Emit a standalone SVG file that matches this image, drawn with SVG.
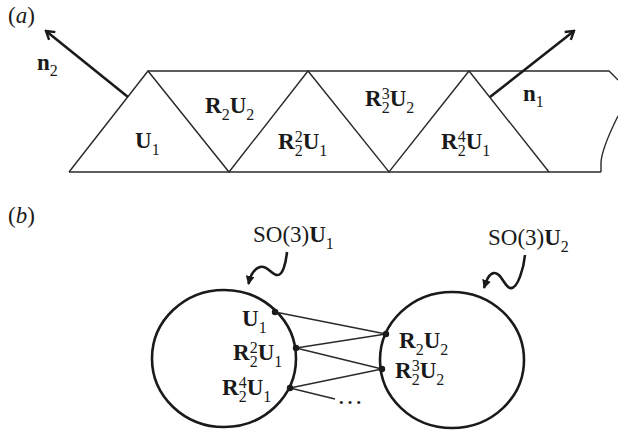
<svg xmlns="http://www.w3.org/2000/svg" width="618" height="431" viewBox="0 0 618 431">
<defs>
<style>
.t{font-family:"Liberation Serif","Times New Roman",serif;font-size:23px;fill:#1a1a1a}
.b{font-weight:bold}
.i{font-style:italic}
.s{font-size:16px;font-weight:normal}
.edge{fill:none;stroke:#2a2a2a;stroke-width:1.4}
.thick{fill:none;stroke:#1a1a1a;stroke-width:2.6}
.circ{fill:none;stroke:#1a1a1a;stroke-width:2.6}
.dot{fill:#1a1a1a}
</style>
<marker id="open" viewBox="0 0 12 12" refX="10" refY="6" markerWidth="12" markerHeight="12" markerUnits="userSpaceOnUse" orient="auto">
<path d="M2,1 L10,6 L2,11" fill="none" stroke="#1a1a1a" stroke-width="2.4" stroke-linejoin="miter"/>
</marker>
<marker id="fill" viewBox="0 0 10 10" refX="9" refY="5" markerWidth="9" markerHeight="9" markerUnits="userSpaceOnUse" orient="auto">
<path d="M0,0 L10,5 L0,10 Z" fill="#1a1a1a"/>
</marker>
</defs>

<!-- (a) -->
<text class="t" x="8" y="23">(<tspan class="i">a</tspan>)</text>

<g id="strip">
<path class="edge" d="M148,71 L609,71 L618,80"/>
<path class="edge" d="M69,172 L601,172"/>
<path class="edge" d="M69,172 L148,71 L229,172 L308,71 L389,172 L469,71 L549,172"/>
<path class="edge" d="M618,116 C612,128 602,150 601,162 L601,172"/>
</g>

<g id="arrows-a">
<path class="thick" d="M128,97 L46,31" marker-end="url(#open)"/>
<path class="thick" d="M490,97 L574,31" marker-end="url(#open)"/>
</g>

<g id="labels-a">
<text class="t" x="37" y="70"><tspan class="b">n</tspan><tspan class="s" dy="6">2</tspan></text>
<text class="t" x="523" y="101"><tspan class="b">n</tspan><tspan class="s" dy="6">1</tspan></text>
<text class="t" x="135" y="148"><tspan class="b">U</tspan><tspan class="s" dy="7">1</tspan></text>
<text class="t" x="205" y="113"><tspan class="b">R</tspan><tspan class="s" dy="7">2</tspan><tspan class="b" dy="-7">U</tspan><tspan class="s" dy="7">2</tspan></text>
<text class="t" x="278" y="149"><tspan class="b">R</tspan><tspan class="s" dy="7">2</tspan><tspan class="s" dx="-8" dy="-14">2</tspan><tspan class="b" dy="7">U</tspan><tspan class="s" dy="7">1</tspan></text>
<text class="t" x="365" y="106"><tspan class="b">R</tspan><tspan class="s" dy="7">2</tspan><tspan class="s" dx="-8" dy="-14">3</tspan><tspan class="b" dy="7">U</tspan><tspan class="s" dy="7">2</tspan></text>
<text class="t" x="441" y="149"><tspan class="b">R</tspan><tspan class="s" dy="7">2</tspan><tspan class="s" dx="-8" dy="-14">4</tspan><tspan class="b" dy="7">U</tspan><tspan class="s" dy="7">1</tspan></text>
</g>

<!-- (b) -->
<text class="t" x="8" y="223">(<tspan class="i">b</tspan>)</text>

<g id="set-U1">
<ellipse class="circ" cx="224" cy="358.5" rx="72" ry="68.5"/>
<text class="t" x="253" y="242">SO(3)<tspan class="b">U</tspan><tspan class="s" dy="7">1</tspan></text>
<path class="thick" d="M287,252 C286,262 283,276 277,275 C271,274 267,265 260,267 C253,269 250,277 248.5,284" marker-end="url(#fill)"/>
</g>

<g id="set-U2">
<ellipse class="circ" cx="452" cy="360" rx="72" ry="68"/>
<text class="t" x="488" y="245">SO(3)<tspan class="b">U</tspan><tspan class="s" dy="7">2</tspan></text>
<path class="thick" d="M525,255 C524,266 518,290 510,288 C504,286 501,272 494,273 C488,274 486,282 484,288" marker-end="url(#fill)"/>
</g>

<g id="connectors">
<path class="edge" d="M275,312 L386,334"/>
<path class="edge" d="M296,348 L386,334"/>
<path class="edge" d="M296,348 L382,369"/>
<path class="edge" d="M290,388 L382,369"/>
<path class="edge" d="M290,388 L335,399"/>
</g>

<g id="points">
<circle class="dot" cx="275" cy="312" r="3.2"/>
<circle class="dot" cx="296" cy="348" r="3.2"/>
<circle class="dot" cx="290" cy="388" r="3.2"/>
<circle class="dot" cx="386" cy="334" r="3.2"/>
<circle class="dot" cx="382" cy="369" r="3.2"/>
</g>

<g id="labels-b">
<text class="t" x="242" y="326"><tspan class="b">U</tspan><tspan class="s" dy="7">1</tspan></text>
<text class="t" x="233" y="360"><tspan class="b">R</tspan><tspan class="s" dy="7">2</tspan><tspan class="s" dx="-8" dy="-14">2</tspan><tspan class="b" dy="7">U</tspan><tspan class="s" dy="7">1</tspan></text>
<text class="t" x="222" y="395"><tspan class="b">R</tspan><tspan class="s" dy="7">2</tspan><tspan class="s" dx="-8" dy="-14">4</tspan><tspan class="b" dy="7">U</tspan><tspan class="s" dy="7">1</tspan></text>
<text class="t" x="399" y="348"><tspan class="b">R</tspan><tspan class="s" dy="7">2</tspan><tspan class="b" dy="-7">U</tspan><tspan class="s" dy="7">2</tspan></text>
<text class="t" x="395" y="378"><tspan class="b">R</tspan><tspan class="s" dy="7">2</tspan><tspan class="s" dx="-8" dy="-14">3</tspan><tspan class="b" dy="7">U</tspan><tspan class="s" dy="7">2</tspan></text>
<text class="t" x="337" y="404" style="font-size:26px">…</text>
</g>
</svg>
